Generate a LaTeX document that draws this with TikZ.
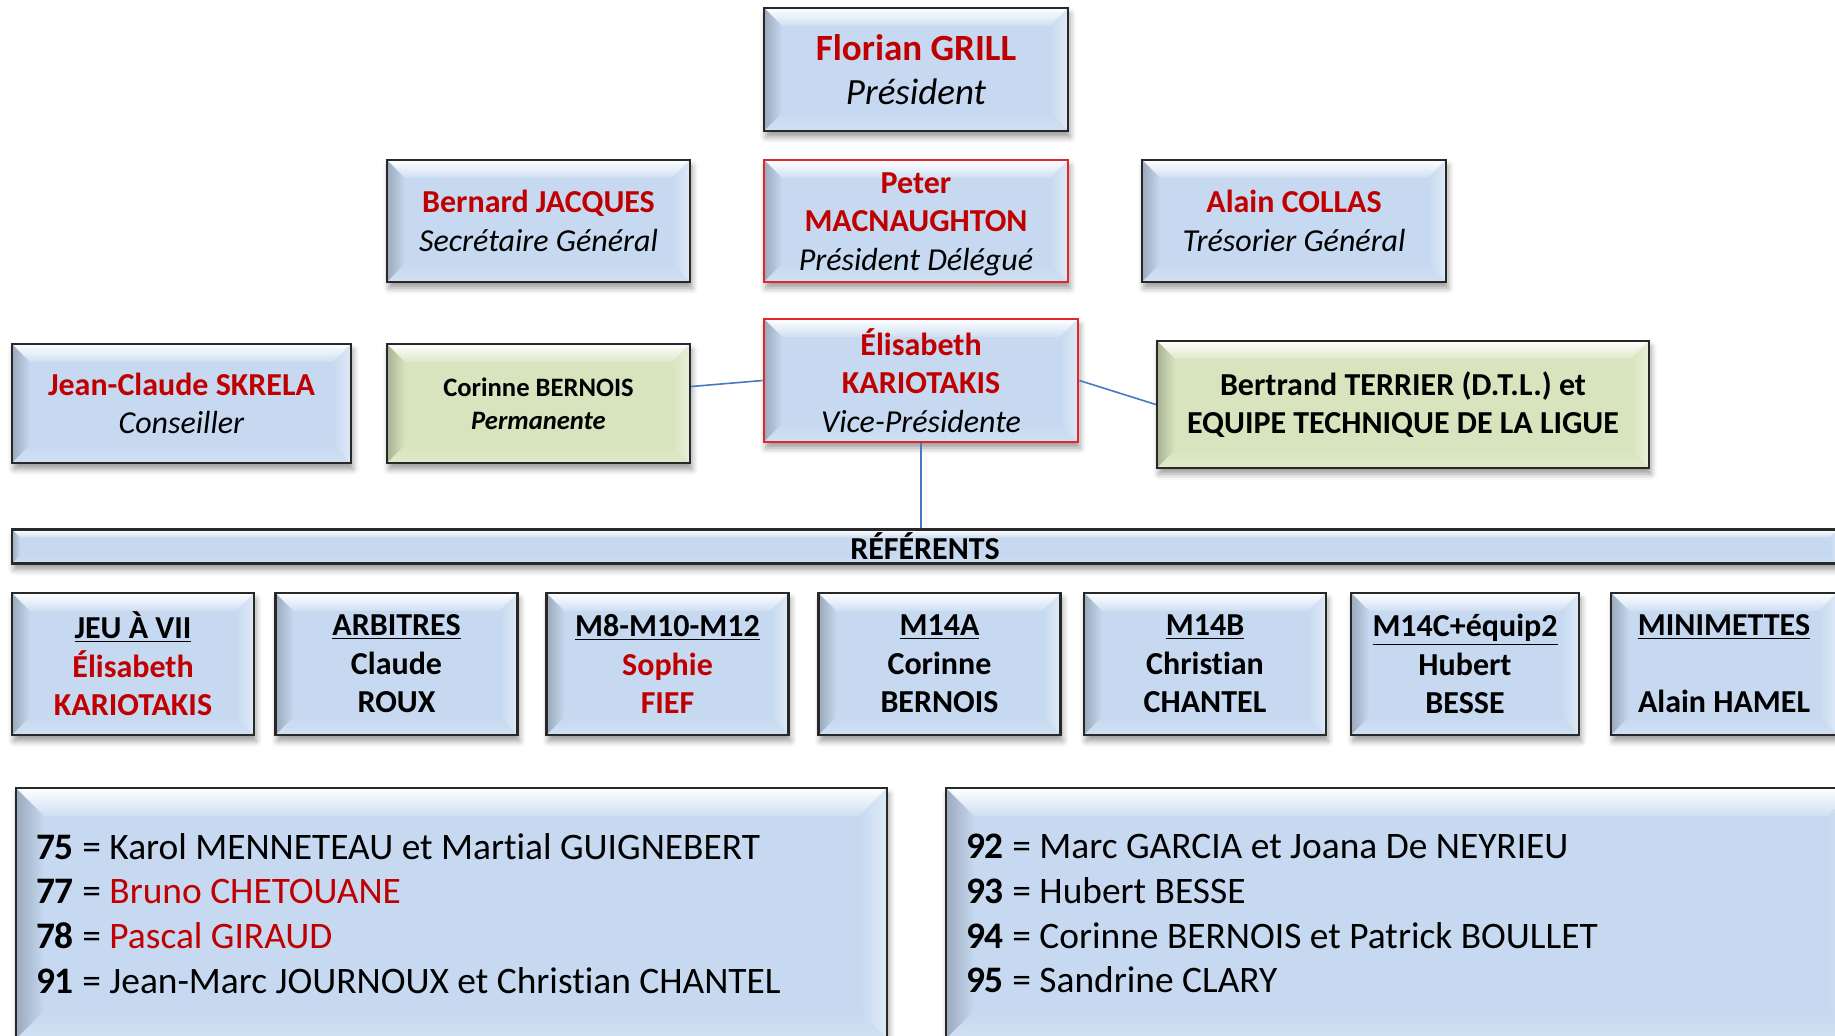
\documentclass[tikz,border=0pt]{standalone}
\usepackage{fontspec}
\setmainfont{Carlito}[Ligatures=NoCommon]
\usepackage{tikz}
\usetikzlibrary{shadows.blur}
\definecolor{boxblue}{RGB}{198,217,240}
\definecolor{boxgreen}{RGB}{216,228,189}
\definecolor{namered}{RGB}{192,0,0}
\definecolor{framered}{RGB}{225,40,40}
\definecolor{framegray}{RGB}{40,40,40}
\definecolor{linkblue}{RGB}{70,120,195}

\newcommand{\redname}[1]{\textbf{\color{namered}#1}}
\newcommand{\reftitle}[1]{\underline{#1}}

\tikzset{
  bevel/.style 2 args={path picture={
    \path (path picture bounding box.north west) coordinate (pnw)
          (path picture bounding box.north east) coordinate (pne)
          (path picture bounding box.south west) coordinate (psw)
          (path picture bounding box.south east) coordinate (pse);
    \shade[top color=white, bottom color=#1!85!white] (pnw) -- (pne) -- ([shift={(-#2,-#2)}]pne) -- ([shift={(#2,-#2)}]pnw) -- cycle;
    \shade[left color=#1!78!black, right color=#1] (pnw) -- ([shift={(#2,-#2)}]pnw) -- ([shift={(#2,#2)}]psw) -- (psw) -- cycle;
    \shade[left color=#1, right color=#1!55!white] (pne) -- ([shift={(-#2,-#2)}]pne) -- ([shift={(-#2,#2)}]pse) -- (pse) -- cycle;
    \shade[top color=#1, bottom color=#1!80!white] (psw) -- ([shift={(#2,#2)}]psw) -- ([shift={(-#2,#2)}]pse) -- (pse) -- cycle;
  }},
}

\begin{document}
\begin{tikzpicture}[
    x=0.5pt, y=-0.5pt,
    card/.style={draw=framegray, line width=1.2pt, fill=boxblue, bevel={boxblue}{9pt},
      blur shadow={shadow xshift=1pt, shadow yshift=-3pt, shadow blur radius=3pt, shadow opacity=40},
      align=center, inner sep=2pt, font=\fontsize{16}{19.3}\selectfont},
    greencard/.style={card, fill=boxgreen, bevel={boxgreen}{9pt}},
    redcard/.style={card, draw=framered, line width=1.4pt},
    refcard/.style={card, minimum width=121pt, minimum height=71pt, font=\fontsize{16}{19.3}\selectfont\bfseries},
    bigcard/.style={card, bevel={boxblue}{14pt}, align=flush left, inner xsep=10pt, minimum height=125.5pt, font=\fontsize{18.7}{22.4}\selectfont},
    link/.style={draw=linkblue, line width=0.8pt}
]
\path[use as bounding box, clip] (0,0) rectangle (1835,1035);

\node[card, minimum width=152pt, minimum height=61.5pt, font=\fontsize{18.5}{22}\selectfont] (pres) at (916,69.5) {\redname{Florian GRILL}\\\textit{Président}};

\node[card, minimum width=151.5pt, minimum height=61pt] (sec) at (538.5,221) {\redname{Bernard JACQUES}\\\textit{Secrétaire Général}};
\node[redcard, minimum width=152pt, minimum height=61pt] (deleg) at (916,221) {\vphantom{É}\redname{Peter}\\\redname{MACNAUGHTON}\\\textit{Président Délégué}};
\node[card, minimum width=152pt, minimum height=61pt] (treso) at (1294,221) {\redname{Alain COLLAS}\\\textit{Trésorier Général}};

\node[card, minimum width=169.5pt, minimum height=59.5pt] (cons) at (181.5,403.5) {\redname{Jean-Claude SKRELA}\\\textit{Conseiller}};
\node[greencard, minimum width=151.5pt, minimum height=59.5pt, font=\fontsize{13.3}{16.4}\selectfont\bfseries] (perm) at (538.5,403.5) {Corinne BERNOIS\\\textit{Permanente}};
\node[redcard, minimum width=157pt, minimum height=61.5pt] (vice) at (921,380.5) {\redname{Élisabeth}\\\redname{KARIOTAKIS}\\\textit{Vice-Présidente}};
\node[greencard, minimum width=246pt, minimum height=63.5pt, font=\fontsize{16}{19.3}\selectfont\bfseries] (dtl) at (1403,404.5) {Bertrand TERRIER (D.T.L.) et\\EQUIPE TECHNIQUE DE LA LIGUE};

\node[card, bevel={boxblue}{4pt}, minimum width=913pt, minimum height=17pt, inner ysep=0pt, font=\fontsize{16}{19.3}\selectfont\bfseries] (ref) at (925,546.5) {RÉFÉRENTS};

\node[refcard] (jeu) at (133,664) {\reftitle{JEU À VII}\\{\color{namered}Élisabeth}\\{\color{namered}KARIOTAKIS}};
\node[refcard] (arb) at (396.5,664) {\reftitle{ARBITRES}\\Claude\\ROUX};
\node[refcard] (m812) at (667.5,664) {\reftitle{M8-M10-M12}\\{\color{namered}Sophie}\\{\color{namered}FIEF}};
\node[refcard] (m14a) at (939.5,664) {\reftitle{M14A}\\Corinne\\BERNOIS};
\node[refcard] (m14b) at (1205,664) {\reftitle{M14B}\\Christian\\CHANTEL};
\node[refcard, minimum width=114pt] (m14c) at (1465,664) {\reftitle{M14C+équip2}\\Hubert\\BESSE};
\node[refcard, minimum width=113pt] (mini) at (1724,664) {\reftitle{MINIMETTES}\\~\\Alain HAMEL};

\node[bigcard, text width=415.5pt] (depa) at (451.5,913.5) {\textbf{75} = Karol MENNETEAU et Martial GUIGNEBERT\\
\textbf{77} = {\color{namered}Bruno CHETOUANE}\\
\textbf{78} = {\color{namered}Pascal GIRAUD}\\
\textbf{91} = Jean-Marc JOURNOUX et Christian CHANTEL};
\node[bigcard, text width=435pt] (depb) at (1401,913.5) {\textbf{92} = Marc GARCIA et Joana De NEYRIEU\\
\textbf{93} = Hubert BESSE\\
\textbf{94} = Corinne BERNOIS et Patrick BOULLET\\
\textbf{95} = Sandrine CLARY};

\draw[link] ([yshift=8.5pt]perm.east) -- (vice.west);
\draw[link] (vice.east) -- (dtl.west);
\draw[link] (vice.south) -- (vice.south |- ref.north);

\end{tikzpicture}
\end{document}
